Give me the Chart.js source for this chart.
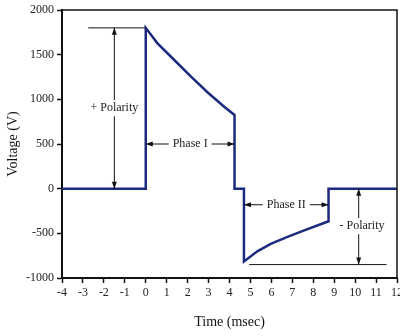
<!DOCTYPE html>
<html>
<head>
<meta charset="utf-8">
<script src="https://cdn.jsdelivr.net/npm/chart.js@4.4.1/dist/chart.umd.min.js"></script>
<style>
  html, body { margin: 0; padding: 0; background: #fff; overflow: hidden; }
  #wrap { width: 400px; height: 336px; }
</style>
</head>
<body>
<div id="wrap"><canvas id="myChart" width="400" height="336"></canvas></div>
<script>
// waveform (time in msec, voltage in V)
const timeMs = [-4, 0, 0, 0.55, 1.35, 2.15, 2.96, 3.76, 4.24, 4.24, 4.69, 4.69, 5.33, 5.97, 6.77, 7.57, 8.73, 8.73, 12];
const voltage = [0, 0, 1800, 1630, 1443, 1256, 1077, 914, 825, 0, 0, -815, -701, -619, -540, -466, -365, 0, 0];

const xTicks = [-4, -3, -2, -1, 0, 1, 2, 3, 4, 5, 6, 7, 8, 9, 10, 11, 12];
const yTicks = [-1000, -500, 0, 500, 1000, 1500, 2000];

// annotation lines: [x1, y1, x2, y2]
const refLines = [
    [-2.75, 1800, 0, 1800],
    [4.94, -850, 11.5, -850]
];
// double arrows: [x1, y1, x2, y2]
const dblArrows = [
    [-1.5, 1800, -1.5, 0],
    [0, 500, 4.24, 500],
    [4.69, -180, 8.73, -180],
    [10.17, 0, 10.17, -850]
];
// labels: [text, x, y]
const noteLabels = [
    ["+ Polarity", -1.5, 900],
    ["Phase I", 2.12, 500],
    ["Phase II", 6.71, -180],
    ["- Polarity", 10.33, -420]
];

const serif = "'Liberation Serif', 'DejaVu Serif', serif";

function drawArrowHead(ctx, x, y, ang) {
    const len = 7, half = 2.5;
    ctx.beginPath();
    ctx.moveTo(x, y);
    ctx.lineTo(x - len * Math.cos(ang) + half * Math.sin(ang), y - len * Math.sin(ang) - half * Math.cos(ang));
    ctx.lineTo(x - len * Math.cos(ang) - half * Math.sin(ang), y - len * Math.sin(ang) + half * Math.cos(ang));
    ctx.closePath();
    ctx.fill();
}

const notesPlugin = {
    id: 'notes',
    afterDatasetsDraw(chart) {
        const ctx = chart.ctx;
        const xs = chart.scales.x, ys = chart.scales.y;
        const a = chart.chartArea;
        ctx.save();
        // frame
        ctx.strokeStyle = '#111';
        ctx.lineWidth = 1.5;
        ctx.beginPath();
        ctx.moveTo(a.left, a.top);
        ctx.lineTo(a.right, a.top);
        ctx.lineTo(a.right, a.bottom);
        ctx.stroke();

        ctx.lineWidth = 1;
        ctx.fillStyle = '#111';
        refLines.forEach(l => {
            ctx.beginPath();
            ctx.moveTo(xs.getPixelForValue(l[0]), ys.getPixelForValue(l[1]));
            ctx.lineTo(xs.getPixelForValue(l[2]), ys.getPixelForValue(l[3]));
            ctx.stroke();
        });
        dblArrows.forEach(l => {
            const x1 = xs.getPixelForValue(l[0]), y1 = ys.getPixelForValue(l[1]);
            const x2 = xs.getPixelForValue(l[2]), y2 = ys.getPixelForValue(l[3]);
            ctx.beginPath();
            ctx.moveTo(x1, y1);
            ctx.lineTo(x2, y2);
            ctx.stroke();
            const ang = Math.atan2(y2 - y1, x2 - x1);
            drawArrowHead(ctx, x2, y2, ang);
            drawArrowHead(ctx, x1, y1, ang + Math.PI);
        });
        ctx.font = "12px " + serif;
        ctx.textAlign = 'center';
        ctx.textBaseline = 'middle';
        noteLabels.forEach(t => {
            const px = xs.getPixelForValue(t[1]), py = ys.getPixelForValue(t[2]);
            const w = ctx.measureText(t[0]).width;
            ctx.fillStyle = '#fff';
            ctx.fillRect(px - w / 2 - 4, py - 8, w + 8, 16);
            ctx.fillStyle = '#222';
            ctx.fillText(t[0], px, py);
        });
        ctx.restore();
    }
};

const points = timeMs.map((t, i) => ({ x: t, y: voltage[i] }));

const ctx = document.getElementById('myChart').getContext('2d');
const myChart = new Chart(ctx, {
    type: 'line',
    data: {
        datasets: [{
            data: points,
            borderColor: '#1b2a7e',
            borderWidth: 2.5,
            pointRadius: 0,
            tension: 0,
            fill: false,
            borderJoinStyle: 'miter'
        }]
    },
    options: {
        responsive: false,
        animation: false,
        layout: { padding: { top: 10, right: 3, left: 0, bottom: 0 } },
        plugins: {
            legend: { display: false },
            tooltip: { enabled: false }
        },
        scales: {
            x: {
                type: 'linear',
                min: -4,
                max: 12,
                afterBuildTicks: s => { s.ticks = xTicks.map(v => ({ value: v })); },
                afterFit: s => { s.height = 58; s.paddingLeft = 0; s.paddingRight = 0; },
                grid: { drawOnChartArea: false, drawTicks: true, tickLength: 5, tickColor: '#111', tickWidth: 1.5 },
                border: { display: true, color: '#111', width: 2 },
                ticks: { color: '#222', font: { family: serif, size: 12 }, padding: 3, maxRotation: 0, autoSkip: false,
                         callback: v => String(v) },
                title: { display: true, text: 'Time (msec)', color: '#111', font: { family: serif, size: 14 }, padding: { top: 4, bottom: 5 } }
            },
            y: {
                min: -1000,
                max: 2000,
                afterBuildTicks: s => { s.ticks = yTicks.map(v => ({ value: v })); },
                afterFit: s => { s.width = 62; s.paddingTop = 0; s.paddingBottom = 0; },
                grid: { drawOnChartArea: false, drawTicks: true, tickLength: 5, tickColor: '#111', tickWidth: 1.5 },
                border: { display: true, color: '#111', width: 2 },
                ticks: { color: '#222', font: { family: serif, size: 12 }, padding: 3,
                         callback: v => String(v) },
                title: { display: true, text: 'Voltage (V)', color: '#111', font: { family: serif, size: 14 }, padding: { top: 5, bottom: 2 } }
            }
        }
    },
    plugins: [notesPlugin]
});
</script>
</body>
</html>
